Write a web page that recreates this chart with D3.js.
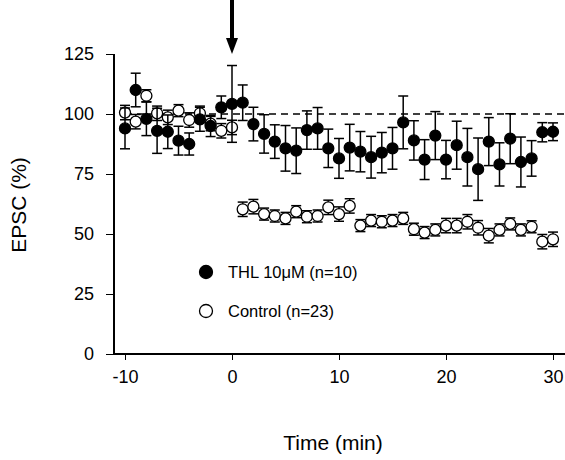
<!DOCTYPE html>
<html lang="en">
<head>
  <meta charset="UTF-8">
  <title>EPSC time course</title>
  <style>
    body { margin: 0; background: #fff; font-family: Arial, "Liberation Sans", sans-serif; }
    .axis path, .axis line { stroke: #000; stroke-width: 1.5; shape-rendering: crispEdges; }
    .axis text { font-size: 18px; fill: #000; font-family: Arial, "Liberation Sans", sans-serif; }
  </style>
  <script src="https://d3js.org/d3.v7.min.js"></script>
</head>
<body>
  <svg id="chart" width="565" height="460"></svg>
  <script>
    // Data
    const minutes = d3.range(-10, 31);
    const thlMean = [94, 110, 98, 93, 92.6, 88.9, 87.5, 97.8, 95, 102.8, 104.2, 104.7, 95.8, 91.7, 88.5, 85.7, 84.7, 93.3, 94,
      85.7, 81.5, 86, 84.3, 82, 83.9, 85.7, 96.5, 89, 81, 91, 81, 87, 82, 77, 88.5, 79, 89.7, 80, 81.5, 92.4, 92.6];
    const thlSem = [8.5, 7, 7, 9.4, 7, 6, 4.6, 5, 4.4, 4.7, 16, 7.4, 7, 8, 7, 9.5, 9.5, 8, 8.7,
      8, 8.3, 9.7, 8.4, 8.7, 8.4, 8.7, 11, 8.2, 8.3, 10, 8, 10, 12, 13, 10, 9, 10.4, 10.4, 7.4, 4, 3.7];
    const ctlMinutes = d3.range(-10, 31);
    const ctlMean = [100.6, 96.8, 107.6, 100.3, 98.6, 101.4, 97.5, 100.3, 96, 93, 94.4,
      60.3, 61.4, 58.3, 57.5, 56.5, 59.3, 57.2, 57.5, 61.1, 58.3, 61.7, 53.5, 55.6, 55.1, 55.6, 56.5, 52, 50.6, 51.7,
      53.5, 53.5, 55.1, 52.6, 49.3, 51.7, 54.2, 51.7, 53, 46.8, 47.8];
    const ctlSem = [3, 3, 2.5, 3, 3, 2.5, 3, 3, 3, 3, 3,
      3, 3, 2.5, 2.5, 2.5, 2.5, 2.5, 2.5, 3, 3, 3, 2.5, 2.5, 2.5, 2.5, 2.5, 2.5, 2.5, 2.5,
      3, 3, 3, 3, 3, 2.5, 2.5, 2.5, 2.5, 3, 3];
    const yTicks = [0, 25, 50, 75, 100, 125];
    const xTicks = [-10, 0, 10, 20, 30];

    const thl = minutes.map((m, i) => ({ t: m, v: thlMean[i], e: thlSem[i] }));
    const ctl = ctlMinutes.map((m, i) => ({ t: m, v: ctlMean[i], e: ctlSem[i] }));

    const svg = d3.select("#chart");
    const x = d3.scaleLinear().domain([-10, 30]).range([125, 553]);
    const y = d3.scaleLinear().domain([0, 125]).range([354, 54]);

    // axes
    svg.append("g").attr("class", "axis")
      .attr("transform", "translate(0,354)")
      .call(d3.axisBottom(x).tickValues(xTicks).tickFormat(d => String(d)).tickSize(6).tickSizeOuter(0))
      .call(g => g.select(".domain").attr("d", "M114,0H565"))
      .call(g => g.selectAll("text").attr("dy", "1.1em"));
    svg.append("g").attr("class", "axis")
      .attr("transform", "translate(114,0)")
      .call(d3.axisLeft(y).tickValues(yTicks).tickSize(8).tickSizeOuter(0))
      .call(g => g.select(".domain").attr("d", "M0,54V354"))
      .call(g => g.selectAll("text").attr("x", -20));

    svg.append("text").attr("x", 333).attr("y", 450).attr("text-anchor", "middle")
      .attr("font-size", 21).text("Time (min)");
    svg.append("text").attr("transform", "translate(26,205) rotate(-90)")
      .attr("text-anchor", "middle").attr("font-size", 21).text("EPSC (%)");

    // dashed 100% line
    svg.append("line").attr("x1", x(-10)).attr("x2", 565)
      .attr("y1", y(100)).attr("y2", y(100))
      .attr("stroke", "#000").attr("stroke-width", 1.4).attr("stroke-dasharray", "7,5");

    // arrow at t = 0
    svg.append("line").attr("x1", x(0)).attr("x2", x(0)).attr("y1", 0).attr("y2", 40)
      .attr("stroke", "#000").attr("stroke-width", 4);
    svg.append("path")
      .attr("d", `M${x(0) - 6},38L${x(0) + 6},38L${x(0)},54Z`).attr("fill", "#000");

    function drawSeries(data, fill) {
      const g = svg.append("g");
      const eb = g.selectAll(".eb").data(data).enter().append("g");
      eb.append("line").attr("x1", d => x(d.t)).attr("x2", d => x(d.t))
        .attr("y1", d => y(d.v - d.e)).attr("y2", d => y(d.v + d.e))
        .attr("stroke", "#000").attr("stroke-width", 1.5);
      [1, -1].forEach(s => eb.append("line")
        .attr("x1", d => x(d.t) - 5).attr("x2", d => x(d.t) + 5)
        .attr("y1", d => y(d.v + s * d.e)).attr("y2", d => y(d.v + s * d.e))
        .attr("stroke", "#000").attr("stroke-width", 1.5));
      g.selectAll("circle").data(data).enter().append("circle")
        .attr("cx", d => x(d.t)).attr("cy", d => y(d.v)).attr("r", 5.5)
        .attr("fill", fill).attr("stroke", "#000").attr("stroke-width", 1.3);
    }
    drawSeries(ctl, "#fff");
    drawSeries(thl, "#000");

    // legend
    const legend = [
      { label: "THL 10\u03bcM (n=10)", fill: "#000", yy: 272 },
      { label: "Control (n=23)", fill: "#fff", yy: 311 }
    ];
    legend.forEach(l => {
      svg.append("circle").attr("cx", 206).attr("cy", l.yy).attr("r", 6.5)
        .attr("fill", l.fill).attr("stroke", "#000").attr("stroke-width", 1.3);
      svg.append("text").attr("x", 228).attr("y", l.yy + 6).attr("font-size", 16.5).text(l.label);
    });
  </script>
</body>
</html>
